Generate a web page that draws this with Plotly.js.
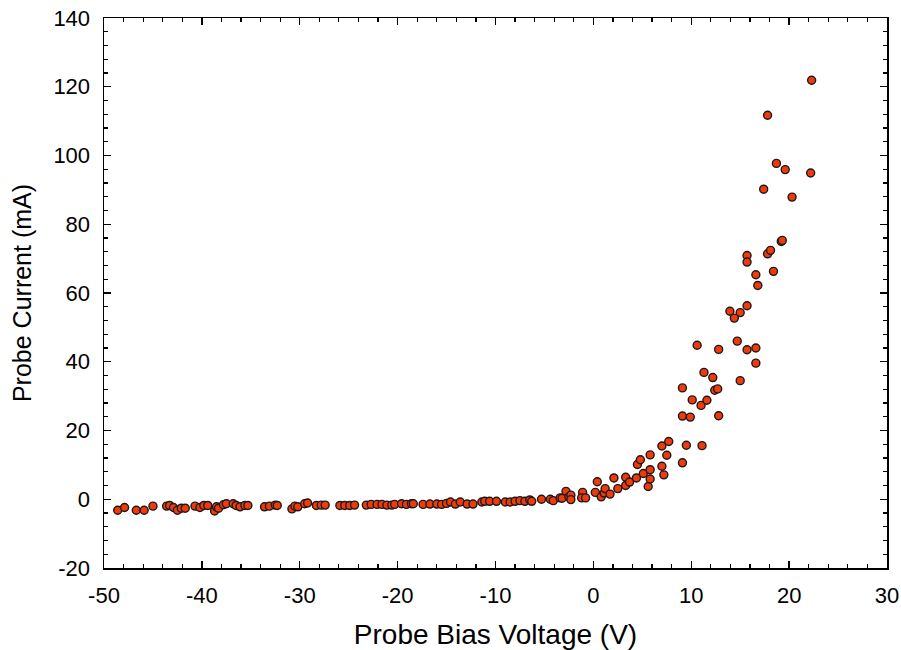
<!DOCTYPE html>
<html>
<head>
<meta charset="utf-8">
<script src="https://cdn.plot.ly/plotly-3.0.1.min.js"></script>
<style>html,body{margin:0;padding:0;background:#fff;}#chart{width:901px;height:650px;}</style>
</head>
<body>
<div id="chart"></div>
<script>
const biasVoltage = [
 -48.6,-47.9,-46.7,-45.9,-45.0,-43.6,-43.3,-42.9,-42.5,-42.1,-41.7,-40.7,-40.2,-39.8,-39.4,
 -38.7,-38.5,-38.3,-37.8,-37.5,-36.8,-36.5,-36.1,-35.6,-35.3,
 -33.6,-33.1,-32.5,-32.3,-30.8,-30.5,-30.2,-29.5,-29.2,-28.3,-27.8,-27.4,
 -25.9,-25.4,-24.9,-24.4,-23.2,-22.7,-22.1,-21.6,-21.1,-20.6,-20.3,-19.6,-19.1,-18.6,
 -18.4,-17.4,-16.7,-16.0,-15.5,-15.0,-14.6,-14.1,-13.6,-12.9,-12.3,-11.4,-11.1,-10.6,-9.9,
 -9.0,-8.5,-8.0,-7.5,-7.0,-6.5,-6.3,-5.3,-4.4,-4.1,-3.4,-3.2,-2.8,-2.5,-2.3,-2.3,
 -1.1,-1.2,-0.8,0.2,0.4,0.8,1.1,1.2,1.7,2.1,2.5,3.3,3.3,3.7,4.4,4.5,4.8,5.1,5.6,5.8,5.8,5.8,
 7.0,7.2,7.0,7.5,7.7,9.1,9.5,11.1,
 9.1,9.9,12.8,11.0,10.1,11.6,12.4,12.7,15.0,9.1,11.3,12.2,10.6,12.8,14.7,15.7,16.6,16.6,
 15.7,13.95,15.0,14.4,16.8,16.6,15.7,15.7,18.4,17.8,18.1,19.2,19.3,17.4,20.3,18.7,19.6,22.2,17.8,22.3
];
const probeCurrent = [
 -3.2,-2.4,-3.2,-3.2,-2.0,-2.0,-1.8,-2.4,-3.2,-2.6,-2.6,-2.0,-2.4,-1.8,-1.8,
 -3.4,-2.2,-2.6,-1.6,-1.3,-1.3,-1.8,-2.2,-1.8,-1.8,
 -2.2,-2.0,-1.7,-1.8,-2.8,-2.0,-2.2,-1.3,-1.1,-1.8,-1.7,-1.7,
 -1.8,-1.8,-1.8,-1.7,-1.7,-1.5,-1.5,-1.5,-1.7,-1.7,-1.5,-1.3,-1.5,-1.3,
 -1.3,-1.5,-1.4,-1.4,-1.5,-1.2,-0.8,-1.4,-0.8,-1.4,-1.4,-0.8,-0.6,-0.6,-0.6,
 -0.8,-0.8,-0.6,-0.4,-0.6,-0.2,-0.6,0.0,0.0,-0.4,0.4,0.3,2.3,0.7,1.2,-0.1,
 2.0,0.4,0.4,2.0,5.1,0.7,1.8,3.1,1.5,6.2,3.1,6.4,4.0,5.0,6.2,10.1,11.5,7.5,3.7,5.9,8.6,12.9,
 9.6,7.1,15.5,12.8,16.8,10.6,15.7,15.6,
 24.2,23.9,24.3,27.3,28.9,28.8,31.7,32.1,34.5,32.4,36.9,35.4,44.8,43.6,46.0,43.5,44.0,39.6,
 56.3,54.7,54.3,52.7,62.2,65.3,70.9,69.0,66.3,71.4,72.4,75.0,75.3,90.2,87.9,97.7,95.9,94.9,111.7,121.9
];
const xTickVals = [-50,-40,-30,-20,-10,0,10,20,30];
const yTickVals = [-20,0,20,40,60,80,100,120,140];

const font = "Liberation Sans, Arial, sans-serif";
const trace = {
  x: biasVoltage, y: probeCurrent, type: 'scatter', mode: 'markers',
  marker: {size: 8, color: '#f03a0c', line: {color: '#1a1a1a', width: 1.4}},
  hoverinfo: 'x+y'
};
const axisCommon = {
  showgrid: false, zeroline: false, showline: true, linecolor: '#000', linewidth: 1.5,
  mirror: 'allticks', ticks: 'inside', ticklen: 7, tickwidth: 1.3, tickcolor: '#000',
  tickfont: {family: font, size: 22, color: '#000'}
};
const layout = {
  width: 901, height: 650,
  margin: {l: 104, r: 14, t: 18, b: 82},
  paper_bgcolor: '#fff', plot_bgcolor: '#fff',
  showlegend: false,
  xaxis: Object.assign({}, axisCommon, {
    range: [-50, 30], tickmode: 'array', tickvals: xTickVals,
    ticktext: xTickVals.map(String), ticklabelstandoff: 7,
    minor: {dtick: 2, ticks: 'inside', ticklen: 4, tickwidth: 1.2, tickcolor: '#000', showgrid: false},
    title: {text: 'Probe Bias Voltage (V)', font: {family: font, size: 28, color: '#000'}, standoff: 18}
  }),
  yaxis: Object.assign({}, axisCommon, {
    range: [-20, 140], tickmode: 'array', tickvals: yTickVals,
    ticktext: yTickVals.map(String), ticklabelstandoff: 8,
    minor: {dtick: 4, ticks: 'inside', ticklen: 4, tickwidth: 1.2, tickcolor: '#000', showgrid: false},
    title: {text: 'Probe Current (mA)', font: {family: font, size: 25, color: '#000'}, standoff: 14}
  })
};
Plotly.newPlot('chart', [trace], layout, {displayModeBar: false, staticPlot: true});
</script>
</body>
</html>
